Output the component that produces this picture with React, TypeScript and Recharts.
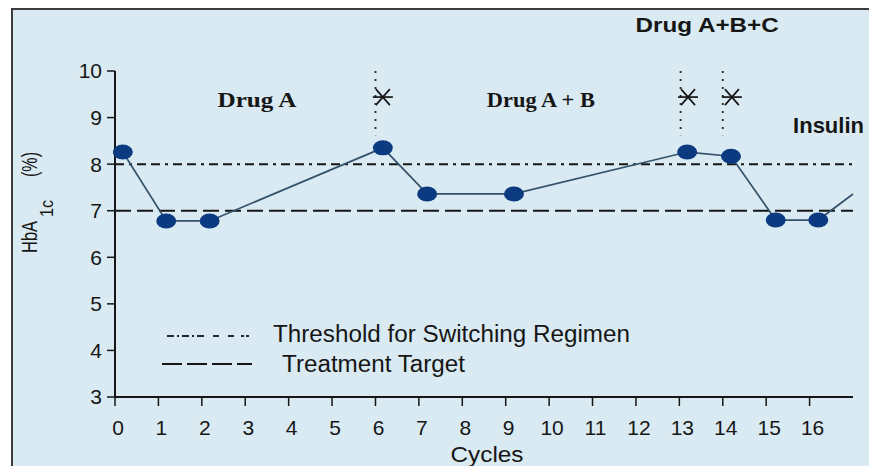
import { LineChart, Line, XAxis, YAxis, ReferenceLine, ReferenceDot, Legend } from 'recharts';

// HbA1c readings per treatment cycle (x, points sit a bit right of the ticks)
const cycles = [0.18, 1.18, 2.18, 6.17, 7.19, 9.19, 13.18, 14.19, 15.22, 16.2, 17];
const hba1c = [8.26, 6.78, 6.78, 8.35, 7.36, 7.36, 8.26, 8.17, 6.8, 6.8, 7.36];

const xTicks = [0, 1, 2, 3, 4, 5, 6, 7, 8, 9, 10, 11, 12, 13, 14, 15, 16];
const yTicks = [3, 4, 5, 6, 7, 8, 9, 10];

const switchThreshold = 8;
const treatmentTarget = 7;

// regimen switches (dotted markers + asterisks)
const switchCycles = [6, 13.03, 14];
const asteriskX = [6.17, 13.2, 14.21];
const asteriskY = 9.44;

const phaseNames = ['Drug A', 'Drug A + B', 'Drug A+B+C', 'Insulin'];
const phaseX = [3.27, 9.81, 13.64, 15.62];
const phaseY = [9.23, 9.23, 10.84, 8.67];

const sans = '"Liberation Sans", Arial, sans-serif';
const serif = '"Liberation Serif", "Times New Roman", serif';
const ink = '#161616';

const data = cycles.map((x, i) => ({ x, hba1c: hba1c[i] }));

const renderDot = (props: any) => {
  const { cx, cy, index } = props;
  if (index === cycles.length - 1) return <g key={`dot-${index}`} />;
  return <ellipse key={`dot-${index}`} cx={cx} cy={cy} rx={10} ry={7.5} fill="#0b3a80" />;
};

const renderAsterisk = (props: any) => {
  const { cx, cy } = props;
  return (
    <g stroke={ink} strokeWidth={1.7}>
      <line x1={cx - 10} x2={cx + 10} y1={cy} y2={cy} />
      <line x1={cx - 7} x2={cx + 7} y1={cy - 8} y2={cy + 8} />
      <line x1={cx - 7} x2={cx + 7} y1={cy + 8} y2={cy - 8} />
    </g>
  );
};

const phaseText = (i: number) => (props: any) => {
  const { cx, cy } = props;
  if (i < 2) {
    return (
      <text x={cx} y={cy} textAnchor="middle" fontFamily={serif} fontWeight="bold" fontSize={22} fill={ink}
        textLength={i === 0 ? 79 : 108} lengthAdjust="spacingAndGlyphs">
        {phaseNames[i]}
      </text>
    );
  }
  return (
    <text x={cx} y={cy} textAnchor={i === 2 ? 'middle' : 'start'} fontFamily={sans} fontWeight="bold"
      fontSize={i === 2 ? 20 : 22} fill={ink} textLength={i === 2 ? 143 : undefined}
      lengthAdjust="spacingAndGlyphs">
      {phaseNames[i]}
    </text>
  );
};

const renderYLabel = (props: any) => {
  const vb = props.viewBox;
  const bx = vb.x - 18;
  const by = vb.y + 182;
  return (
    <g transform={`rotate(-90, ${bx}, ${by})`} fill={ink} fontFamily={sans}>
      <text x={bx} y={by} fontSize={22} textLength={32} lengthAdjust="spacingAndGlyphs">HbA</text>
      <text x={bx + 36} y={by + 16} fontSize={19} textLength={17} lengthAdjust="spacingAndGlyphs">1c</text>
      <text x={bx + 76} y={by} fontSize={22} textLength={25} lengthAdjust="spacingAndGlyphs">(%)</text>
    </g>
  );
};

const renderXLabel = (props: any) => {
  const vb = props.viewBox;
  return (
    <text x={vb.x + vb.width / 2 + 3} y={vb.y + 65} textAnchor="middle" fontFamily={sans} fontSize={22}
      fill={ink} textLength={73} lengthAdjust="spacingAndGlyphs">
      Cycles
    </text>
  );
};

const renderLegend = () => (
  <svg width={520} height={70}>
    <line x1={17} x2={103} y1={21} y2={21} stroke="#1c2a3a" strokeWidth={2}
      strokeDasharray="7 3 2 3 7 3 2 3 7 9 6 9 6" />
    <text x={123} y={27} fontFamily={sans} fontSize={23} fill={ink} textLength={357}
      lengthAdjust="spacingAndGlyphs">
      Threshold for Switching Regimen
    </text>
    <line x1={12} x2={102} y1={49} y2={49} stroke={ink} strokeWidth={2} strokeDasharray="20 5" />
    <text x={132} y={57} fontFamily={sans} fontSize={23} fill={ink} textLength={183}
      lengthAdjust="spacingAndGlyphs">
      Treatment Target
    </text>
  </svg>
);

export default function App() {
  return (
    <div style={{ position: 'fixed', left: 0, top: 0, width: 869, height: 466, overflow: 'hidden', background: '#ffffff' }}>
      <div
        style={{
          position: 'absolute', left: 11, top: 8, width: 880, height: 480,
          borderLeft: '2px solid #3c3c3c', borderTop: '2px solid #3c3c3c', background: '#d9eaf2',
        }}
      />
      <div style={{ position: 'absolute', left: 0, top: 0 }}>
        <LineChart width={869} height={466} data={data} margin={{ top: 71, right: 16, bottom: 39, left: 55 }}>
          <XAxis
            dataKey="x"
            type="number"
            domain={[0, 17]}
            ticks={xTicks}
            interval={0}
            height={30}
            tickSize={9}
            tickMargin={14}
            axisLine={{ stroke: ink, strokeWidth: 2 }}
            tickLine={{ stroke: ink, strokeWidth: 1.5 }}
            tick={{ fontSize: 21, fill: ink, fontFamily: sans, dx: 3 }}
            label={{ content: renderXLabel }}
          />
          <YAxis
            type="number"
            domain={[3, 10]}
            ticks={yTicks}
            interval={0}
            width={60}
            tickSize={8}
            tickMargin={5}
            axisLine={{ stroke: ink, strokeWidth: 2 }}
            tickLine={{ stroke: ink, strokeWidth: 1.5 }}
            tick={{ fontSize: 21, fill: ink, fontFamily: sans }}
            label={{ content: renderYLabel }}
          />
          <Legend verticalAlign="middle" align="center" content={renderLegend}
            wrapperStyle={{ left: 150, top: 315, width: 520, height: 70 }} />
          <ReferenceLine y={switchThreshold} stroke={ink} strokeWidth={2} strokeDasharray="9 5 3 5 9 5" />
          <ReferenceLine y={treatmentTarget} stroke={ink} strokeWidth={2} strokeDasharray="16 6" />
          {switchCycles.map((c, i) => (
            <ReferenceLine key={`sw-${i}`} segment={[{ x: c, y: 10 }, { x: c, y: 8.62 }]}
              stroke="#333" strokeWidth={2} strokeDasharray="2 6" />
          ))}
          {asteriskX.map((ax, i) => (
            <ReferenceDot key={`ast-${i}`} x={ax} y={asteriskY} r={0} shape={renderAsterisk} />
          ))}
          {phaseNames.map((name, i) => (
            <ReferenceDot key={name} x={phaseX[i]} y={phaseY[i]} r={0} ifOverflow="visible" shape={phaseText(i)} />
          ))}
          <Line
            type="linear"
            dataKey="hba1c"
            stroke="#34536b"
            strokeWidth={1.7}
            dot={renderDot}
            activeDot={false}
            isAnimationActive={false}
          />
        </LineChart>
      </div>
    </div>
  );
}
